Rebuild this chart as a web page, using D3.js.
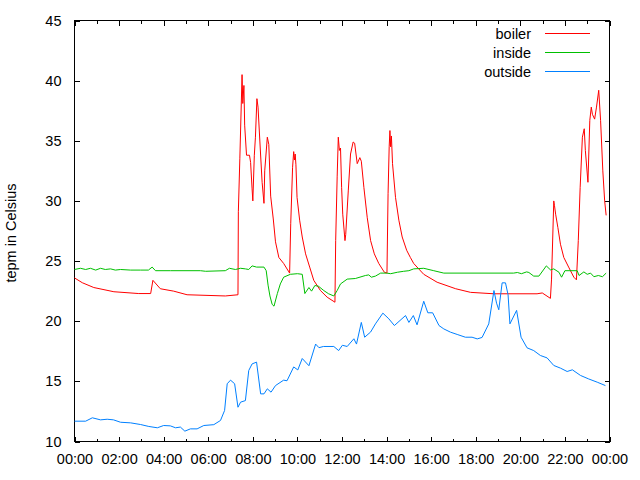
<!DOCTYPE html>
<html>
<head>
<meta charset="utf-8">
<script src="https://cdn.jsdelivr.net/npm/d3@7"></script>
<style>
  html, body { margin: 0; padding: 0; background: #fff; }
  svg { display: block; }
</style>
</head>
<body>
<svg id="chart" width="640" height="480"></svg>
<script>
// ---- data ----
const seriesNames = ["boiler", "inside", "outside"];
const seriesColors = ["#ff0000", "#00c000", "#0080ff"];
const yTicks = [10, 15, 20, 25, 30, 35, 40, 45];
const xTickLabels = ["00:00","02:00","04:00","06:00","08:00","10:00","12:00","14:00","16:00","18:00","20:00","22:00","00:00"];
const yLabel = "tepm in Celsius";

const boilerTime = ["00:00","00:21","00:52","01:46","02:53","03:25","03:31","03:51","04:27","05:03","06:46","07:20","07:21","07:25","07:31","07:33","07:36","07:38","07:43","07:51","07:54","07:58","08:00","08:04","08:07","08:11","08:14","08:19","08:25","08:30","08:32","08:39","08:43","08:48","08:55","09:01","09:10","09:23","09:37","09:39","09:42","09:47","09:50","09:52","09:54","09:56","09:59","10:06","10:13","10:22","10:33","10:44","11:02","11:20","11:41","11:43","11:47","11:50","11:53","11:56","11:59","12:02","12:08","12:10","12:17","12:23","12:30","12:34","12:41","12:48","12:52","12:59","13:08","13:17","13:27","13:39","13:54","14:01","14:04","14:07","14:09","14:11","14:13","14:16","14:24","14:33","14:42","14:54","15:04","15:13","15:40","16:16","17:06","17:46","18:49","20:45","20:59","21:21","21:24","21:30","21:32","21:35","21:41","21:48","21:57","22:10","22:24","22:31","22:36","22:41","22:47","22:52","22:55","23:02","23:07","23:11","23:14","23:20","23:25","23:31","23:36","23:42","23:47","23:51"];
const boilerTemp = [23.6,23.2,22.8,22.45,22.3,22.3,23.4,22.7,22.5,22.2,22.1,22.2,29.1,33.5,40.5,38.1,39.6,36.3,33.8,33.8,33.2,31.0,30.0,33.8,35.3,38.5,37.8,34.9,31.55,29.8,32.5,35.3,34.7,30.4,28.5,26.6,25.3,24.8,24.1,24.0,28.1,32.8,34.1,33.4,33.9,33.0,30.3,28.4,27.0,25.6,24.5,23.4,22.55,22.0,21.58,26.7,32.0,35.3,34.2,34.4,31.1,28.9,26.7,27.2,30.9,33.9,34.9,34.8,33.1,33.6,33.3,31.1,28.6,26.7,25.6,24.8,24.07,24.0,30.6,34.5,35.85,34.5,35.4,33.1,30.3,28.4,27.0,25.9,25.3,24.8,23.9,23.24,22.7,22.4,22.28,22.28,22.35,21.9,23.5,30.0,29.6,28.9,27.8,26.4,25.3,24.5,23.66,23.44,26.7,31.1,35.3,36.0,34.2,31.55,36.7,37.8,37.2,36.8,37.8,39.2,36.7,32.5,30.0,28.8];

const insideTime = ["00:00","00:16","00:30","00:43","00:57","01:10","01:23","01:37","01:50","02:04","02:31","02:58","03:19","03:29","03:38","04:18","05:39","05:53","06:46","06:57","07:13","07:27","07:40","07:49","07:58","08:10","08:30","08:36","08:41","08:46","08:52","08:57","09:06","09:14","09:23","09:41","10:00","10:13","10:20","10:31","10:38","10:47","10:57","11:11","11:24","11:38","11:47","11:56","12:14","12:36","13:03","13:12","13:19","13:30","13:44","14:00","14:11","14:29","14:46","15:00","15:13","15:40","16:07","16:34","19:42","19:52","20:03","20:17","20:23","20:36","20:50","21:10","21:21","21:30","21:44","21:51","22:00","22:33","22:38","22:51","23:00","23:09","23:18","23:30","23:41","23:51"];
const insideTemp = [24.3,24.4,24.3,24.4,24.25,24.4,24.3,24.35,24.25,24.3,24.25,24.25,24.25,24.5,24.2,24.2,24.2,24.15,24.2,24.4,24.3,24.4,24.35,24.3,24.6,24.5,24.5,24.2,23.0,22.1,21.4,21.25,22.3,23.1,23.66,23.9,23.95,23.9,22.3,22.8,22.5,22.97,22.9,22.55,22.28,22.1,22.55,23.1,23.5,23.55,23.8,23.85,23.66,23.75,24.0,24.0,23.95,24.07,24.15,24.2,24.35,24.4,24.2,24.0,24.0,24.05,23.95,24.1,24.05,23.75,23.75,24.6,24.27,24.35,24.07,23.66,24.2,24.2,23.8,24.1,23.9,24.0,23.7,23.8,23.7,24.0];

const outsideTime = ["00:00","00:30","00:48","01:10","01:28","01:45","02:04","02:31","02:58","03:20","03:43","04:00","04:18","04:32","04:45","04:57","05:12","05:30","05:48","06:15","06:33","06:44","06:51","07:00","07:11","07:20","07:27","07:40","07:49","07:58","08:10","08:21","08:30","08:39","08:49","09:01","09:23","09:32","09:50","10:01","10:13","10:31","10:49","10:58","11:10","11:38","11:51","12:01","12:14","12:32","12:39","12:52","13:01","13:17","13:30","13:50","14:06","14:21","14:51","15:00","15:12","15:22","15:40","15:51","16:04","16:21","16:34","16:52","17:10","17:32","17:50","18:04","18:17","18:35","18:49","18:56","19:02","19:11","19:20","19:27","19:32","19:50","20:02","20:18","20:36","20:54","21:12","21:30","21:48","22:06","22:20","22:42","23:04","23:27","23:49"];
const outsideTemp = [11.69,11.69,11.97,11.8,11.85,11.8,11.6,11.55,11.41,11.25,11.14,11.33,11.3,11.14,11.2,10.86,11.05,11.05,11.33,11.4,11.75,12.58,14.8,15.1,14.8,12.85,13.27,13.4,15.9,16.45,16.6,13.96,13.96,14.38,14.1,14.65,15.1,15.05,16.2,15.95,16.9,16.3,18.1,17.8,17.9,17.9,17.56,18.0,17.9,18.54,18.1,19.9,18.67,19.1,19.78,20.67,20.2,19.64,20.47,19.9,20.47,19.7,21.66,20.7,20.7,19.64,19.36,19.09,18.9,18.67,18.67,18.53,18.65,19.78,22.55,21.5,20.95,23.19,23.19,22.2,19.78,20.9,18.67,17.79,17.56,17.15,16.95,16.32,16.1,15.82,15.96,15.49,15.2,14.93,14.65];

// ---- helpers ----
function toMin(s) { const p = s.split(":"); return +p[0] * 60 + +p[1]; }
function zip(times, temps) { return times.map((t, i) => ({ t: toMin(t), v: temps[i] })); }
const seriesData = [zip(boilerTime, boilerTemp), zip(insideTime, insideTemp), zip(outsideTime, outsideTemp)];

const FONT = "'Liberation Sans', Arial, sans-serif";
const FS = "14.5px";

const svg = d3.select("#chart");
const pL = 74.5, pR = 609.5, pT = 20.5, pB = 441.5;

const x = d3.scaleLinear().domain([0, 1440]).range([pL, pR]);
const y = d3.scaleLinear().domain([10, 45]).range([pB, pT]);

const majorX = d3.range(0, 1441, 120);
const minorX = d3.range(60, 1440, 120);

// bottom axis (major, labelled)
const gB = svg.append("g").attr("transform", `translate(0,${pB})`)
  .call(d3.axisBottom(x).tickValues(majorX).tickSizeInner(-5).tickSizeOuter(0).tickPadding(12)
    .tickFormat((d, i) => xTickLabels[i]));
gB.select(".domain").remove();
svg.append("g").attr("transform", `translate(0,${pB})`)
  .call(d3.axisBottom(x).tickValues(minorX).tickSizeInner(-3).tickSizeOuter(0).tickFormat(""))
  .select(".domain").remove();
// top axis (mirrored ticks)
svg.append("g").attr("transform", `translate(0,${pT})`)
  .call(d3.axisTop(x).tickValues(majorX).tickSizeInner(-5).tickSizeOuter(0).tickFormat(""))
  .select(".domain").remove();
svg.append("g").attr("transform", `translate(0,${pT})`)
  .call(d3.axisTop(x).tickValues(minorX).tickSizeInner(-3).tickSizeOuter(0).tickFormat(""))
  .select(".domain").remove();
// left axis
const gL = svg.append("g").attr("transform", `translate(${pL},0)`)
  .call(d3.axisLeft(y).tickValues(yTicks).tickSizeInner(-5).tickSizeOuter(0).tickPadding(13));
gL.select(".domain").remove();
// right axis (mirrored ticks)
svg.append("g").attr("transform", `translate(${pR},0)`)
  .call(d3.axisRight(y).tickValues(yTicks).tickSizeInner(-5).tickSizeOuter(0).tickFormat(""))
  .select(".domain").remove();

svg.selectAll(".tick line").attr("stroke", "#000").attr("shape-rendering", "crispEdges");
svg.selectAll(".tick text").attr("font-family", FONT).attr("font-size", FS).attr("fill", "#000");

// border
svg.append("rect").attr("x", pL).attr("y", pT).attr("width", pR - pL).attr("height", pB - pT)
  .attr("fill", "none").attr("stroke", "#000").attr("stroke-width", 1).attr("shape-rendering", "crispEdges");

// y label
svg.append("text").attr("transform", `translate(16,233) rotate(-90)`)
  .attr("text-anchor", "middle").attr("font-family", FONT).attr("font-size", FS).attr("fill", "#000")
  .text(yLabel);

// lines
const line = d3.line().x(d => x(d.t)).y(d => y(d.v));
seriesData.forEach((data, i) => {
  svg.append("path").datum(data).attr("d", line)
    .attr("fill", "none").attr("stroke", seriesColors[i]).attr("stroke-width", 1);
});

// legend
seriesNames.forEach((name, i) => {
  const ly = 33.5 + i * 19;
  svg.append("text").attr("x", 531).attr("y", ly).attr("dy", "0.35em")
    .attr("text-anchor", "end").attr("font-family", FONT).attr("font-size", FS).attr("fill", "#000")
    .text(name);
  svg.append("line").attr("x1", 545).attr("x2", 590).attr("y1", ly).attr("y2", ly)
    .attr("stroke", seriesColors[i]).attr("stroke-width", 1);
});
</script>
</body>
</html>
